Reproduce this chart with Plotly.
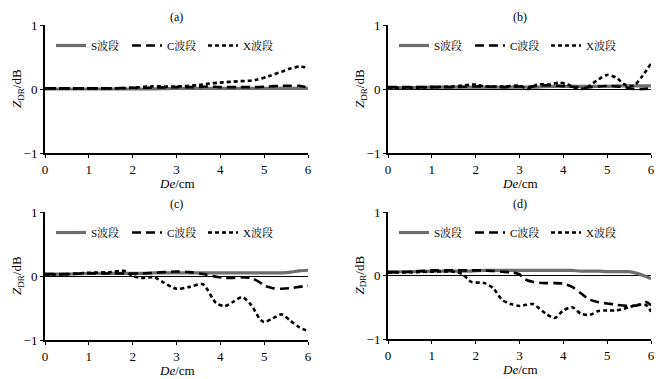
import plotly.graph_objects as go

# ---- data (De in cm, ZDR in dB) ----
a_x = [0, 0.5, 1, 1.5, 2, 2.4, 3, 3.5, 3.7, 4, 4.4, 4.8, 5.1, 5.4, 5.6, 5.8, 6]
a_S = [0.0, 0.0, 0.0, 0.0, 0.0, 0.0, 0.01, 0.01, 0.01, 0.01, 0.01, 0.01, 0.01, 0.01, 0.01, 0.01, 0.01]
a_C = [0.01, 0.01, 0.01, 0.01, 0.02, 0.02, 0.03, 0.03, 0.04, 0.03, 0.03, 0.03, 0.04, 0.05, 0.05, 0.05, 0.02]
a_X = [0.01, 0.01, 0.01, 0.01, 0.02, 0.04, 0.04, 0.06, 0.08, 0.1, 0.12, 0.14, 0.2, 0.27, 0.32, 0.35, 0.33]

b_x = [0, 0.5, 1, 1.5, 2, 2.2, 2.6, 3, 3.2, 3.4, 3.7, 3.9, 4.1, 4.3, 4.5, 4.8, 5, 5.2, 5.4, 5.6, 5.8, 6]
b_S = [0.02, 0.02, 0.03, 0.03, 0.03, 0.03, 0.03, 0.03, 0.03, 0.03, 0.04, 0.04, 0.04, 0.04, 0.04, 0.04, 0.04, 0.05, 0.05, 0.05, 0.05, 0.05]
b_C = [0.03, 0.03, 0.03, 0.03, 0.04, 0.04, 0.03, 0.04, 0.03, 0.05, 0.06, 0.05, 0.04, 0.03, 0.02, 0.04, 0.05, 0.04, 0.03, 0.0, 0.0, 0.01]
b_X = [0.02, 0.02, 0.03, 0.04, 0.07, 0.04, 0.04, 0.05, 0.0, 0.07, 0.07, 0.1, 0.07, 0.01, 0.01, 0.15, 0.22, 0.18, 0.07, 0.05, 0.2, 0.4]

c_x = [0, 0.5, 1, 1.5, 1.8, 2, 2.2, 2.5, 2.7, 3, 3.3, 3.6, 3.9, 4.1, 4.3, 4.5, 4.7, 4.9, 5, 5.2, 5.4, 5.6, 5.8, 6]
c_S = [0.03, 0.03, 0.04, 0.04, 0.04, 0.04, 0.04, 0.05, 0.05, 0.05, 0.05, 0.05, 0.05, 0.05, 0.05, 0.05, 0.05, 0.05, 0.05, 0.05, 0.05, 0.06, 0.08, 0.09]
c_C = [0.03, 0.03, 0.04, 0.04, 0.04, 0.04, 0.04, 0.05, 0.06, 0.07, 0.06, 0.03, -0.01, -0.03, -0.03, -0.02, -0.03, -0.1, -0.15, -0.19, -0.2, -0.19, -0.17, -0.15]
c_X = [0.02, 0.03, 0.05, 0.06, 0.08, 0.0, -0.03, -0.02, -0.1, -0.2, -0.17, -0.13, -0.42, -0.47, -0.4, -0.33, -0.45, -0.67, -0.72, -0.66, -0.6, -0.7, -0.8, -0.86]

d_x = [0, 0.5, 1, 1.5, 1.7, 1.9, 2.2, 2.4, 2.6, 2.8, 3, 3.1, 3.3, 3.6, 3.8, 4, 4.2, 4.4, 4.6, 4.8, 5, 5.2, 5.5, 5.7, 5.9, 6]
d_S = [0.06, 0.06, 0.07, 0.07, 0.07, 0.07, 0.08, 0.08, 0.08, 0.08, 0.08, 0.08, 0.08, 0.08, 0.08, 0.08, 0.08, 0.07, 0.07, 0.07, 0.06, 0.06, 0.06, 0.03, -0.02, -0.05]
d_C = [0.05, 0.06, 0.08, 0.08, 0.08, 0.08, 0.08, 0.07, 0.06, 0.05, 0.02, -0.05, -0.1, -0.12, -0.12, -0.13, -0.18, -0.28, -0.38, -0.42, -0.44, -0.46, -0.48, -0.47, -0.42, -0.47]
d_X = [0.05, 0.05, 0.06, 0.06, 0.02, -0.1, -0.12, -0.2, -0.38, -0.45, -0.48, -0.47, -0.45, -0.6, -0.67, -0.55, -0.5, -0.6, -0.62, -0.56, -0.55, -0.55, -0.5, -0.46, -0.47, -0.57]

panel_labels = ["(a)", "(b)", "(c)", "(d)"]
band_names = ["S波段", "C波段", "X波段"]
x_ticks = [0, 1, 2, 3, 4, 5, 6]
y_ticks = [-1, 0, 1]

panels = [
    (a_x, a_S, a_C, a_X),
    (b_x, b_S, b_C, b_X),
    (c_x, c_S, c_C, c_X),
    (d_x, d_S, d_C, d_X),
]

W, H = 670, 379
ML, MR, MT, MB = 45, 19, 25, 39
PW, PH = W - ML - MR, H - MT - MB
FONT = "Liberation Serif, Noto Serif CJK SC, Noto Sans CJK SC, serif"

# pixel boxes of plot areas: (x0, x1, ytop, ybottom)
boxes = [(45, 308, 25, 153), (388, 651, 25, 153), (45, 308, 212, 340), (388, 651, 212, 339)]

def fx(px):
    return (px - ML) / PW

def fy(py):
    return (H - MB - py) / PH

styles = [
    dict(color="#6e6e6e", width=3.2, dash="solid"),
    dict(color="black", width=2.6, dash="9px,5px"),
    dict(color="black", width=2.6, dash="4px,3px"),
]

fig = go.Figure()
layout = dict(
    width=W, height=H, margin=dict(l=ML, r=MR, t=MT, b=MB, autoexpand=False),
    paper_bgcolor="white", plot_bgcolor="white",
    font=dict(family=FONT, size=12, color="black"),
    annotations=[],
)

for i, (xs, s, c, x) in enumerate(panels):
    n = "" if i == 0 else str(i + 1)
    x0, x1, yt, yb = boxes[i]
    leg = "legend" if i == 0 else f"legend{i+1}"
    for name, ys, st in zip(band_names, [s, c, x], styles):
        fig.add_trace(go.Scatter(
            x=xs, y=ys, mode="lines", name=name,
            line=dict(color=st["color"], width=st["width"], dash=st["dash"], shape="spline", smoothing=0.8),
            xaxis="x" + n, yaxis="y" + n, legend=leg, showlegend=True,
        ))
    layout["xaxis" + n] = dict(
        domain=[max(0, fx(x0)), min(1, fx(x1))], range=[0, 6], anchor="y" + n, automargin=False,
        tickvals=x_ticks, ticks="outside", ticklen=3, tickcolor="black",
        showline=True, linecolor="black", linewidth=2, showgrid=False, zeroline=False,
        tickfont=dict(size=13),
    )
    layout["yaxis" + n] = dict(
        domain=[max(0, fy(yb)), min(1, fy(yt))], range=[-1, 1], anchor="x" + n, automargin=False,
        tickvals=y_ticks, ticks="outside", ticklen=3, tickcolor="black",
        showline=True, linecolor="black", linewidth=2, showgrid=False,
        zeroline=True, zerolinecolor="black", zerolinewidth=1,
        tickfont=dict(size=13),
    )
    layout[leg] = dict(
        x=fx(x0 + 6), y=fy(yt + 6), xanchor="left", yanchor="top",
        orientation="h", bgcolor="rgba(0,0,0,0)", font=dict(size=11),
        itemwidth=30, tracegroupgap=0, entrywidth=31,
    )
    layout["annotations"] += [
        dict(text=panel_labels[i], x=fx((x0 + x1) / 2), y=fy(yt - 8),
             xanchor="center", yanchor="middle",
             xref="paper", yref="paper", showarrow=False, font=dict(size=12)),
        dict(text="<i>De</i>/cm", x=fx((x0 + x1) / 2), y=fy(yb + 30),
             xanchor="center", yanchor="middle",
             xref="paper", yref="paper", showarrow=False, font=dict(size=13)),
        dict(text="<i>Z</i><sub>DR</sub>/dB", x=fx(x0 - 28), y=fy((yt + yb) / 2),
             xanchor="center", yanchor="middle",
             xref="paper", yref="paper", showarrow=False, textangle=-90, font=dict(size=13)),
    ]

fig.update_layout(**layout)
fig.write_html(
    "out.html",
    config={"displayModeBar": False},
    post_script="document.body.style.margin='0';document.body.style.overflow='hidden';",
)
